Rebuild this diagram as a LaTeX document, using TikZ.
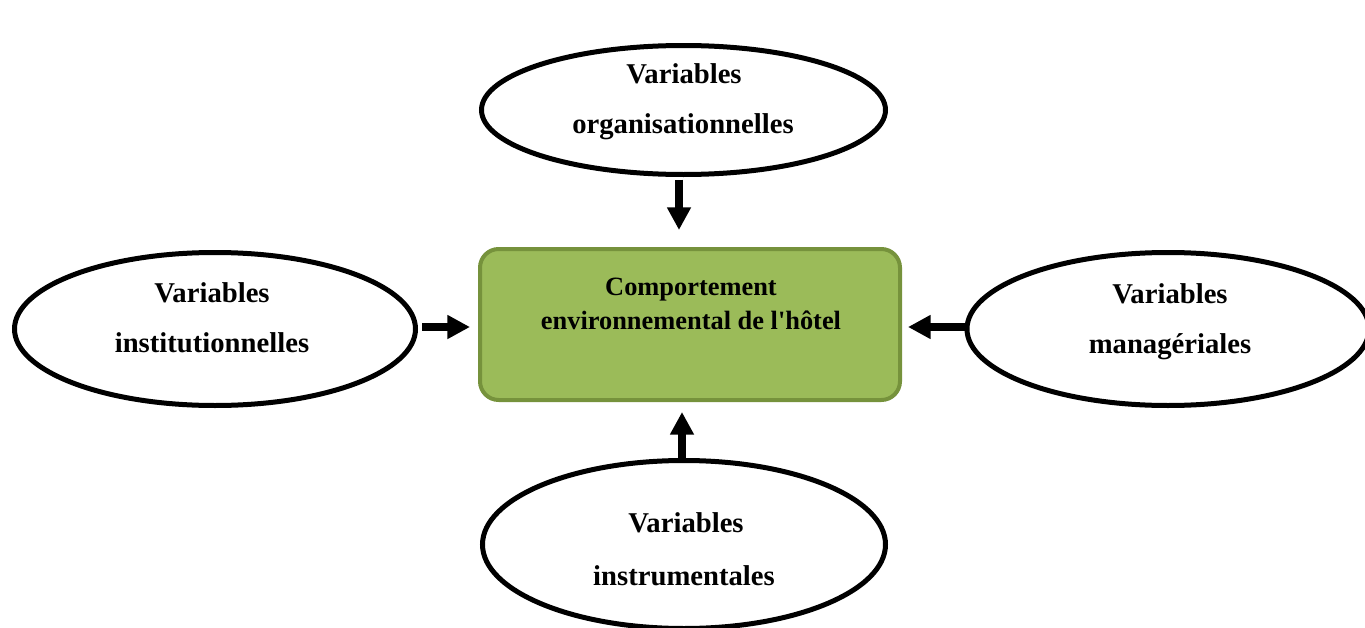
\documentclass[tikz,border=0pt]{standalone}
\usepackage{fontspec}
\setmainfont{Liberation Serif}[Ligatures=TeXOff]
\usetikzlibrary{arrows.meta,shapes.geometric}
\definecolor{boxfill}{HTML}{9BBB59}
\definecolor{boxedge}{HTML}{76923C}
\begin{document}
\begin{tikzpicture}[x=0.75pt,y=-0.75pt,
  varell/.style={ellipse, draw=black, line width=3.75pt, fill=white, inner sep=0pt},
  centrebox/.style={rectangle, rounded corners=14pt, draw=boxedge, fill=boxfill,
    line width=3pt, minimum width=315pt, minimum height=113.25pt, inner sep=0pt},
  vartext/.style={anchor=base, inner sep=0pt, font=\bfseries\fontsize{21.5}{25}\selectfont},
  boxtext/.style={anchor=base, inner sep=0pt, font=\bfseries\fontsize{19.8}{24}\selectfont},
  flow/.style={line width=6pt, -{Triangle[width=17pt,length=17pt]}}
]
\useasboundingbox (0,0) rectangle (1365,628);

% central box
\node[centrebox] (box) at (690,324.5) {};
\node[boxtext] (boxA) at (691,295) {Comportement};
\node[boxtext] (boxB) at (691,329) {environnemental de l'hôtel};

% surrounding ellipses
\node[varell, minimum width=303pt, minimum height=96.75pt] (org) at (683.5,110) {};
\node[varell, minimum width=300.75pt, minimum height=114.75pt] (inst) at (215,329) {};
\node[varell, minimum width=301.5pt, minimum height=114.75pt] (man) at (1168,329) {};
\node[varell, minimum width=302.25pt, minimum height=126pt] (instr) at (684,544.5) {};

\node[vartext] (orgA) at (684,83) {Variables};
\node[vartext] (orgB) at (683,133) {organisationnelles};
\node[vartext] (instA) at (212,302) {Variables};
\node[vartext] (instB) at (212,352) {institutionnelles};
\node[vartext] (manA) at (1170,303) {Variables};
\node[vartext] (manB) at (1170,353) {managériales};
\node[vartext] (instrA) at (686,532) {Variables};
\node[vartext] (instrB) at (684,585) {instrumentales};

% arrows towards the central box
\coordinate (tipT) at (679,230);
\coordinate (tipL) at (470,327);
\coordinate (tipR) at (908,327);
\coordinate (tipB) at (682,412);
\draw[flow, shorten <=2pt] (org.south -| tipT) -- (tipT);
\draw[flow, shorten <=3pt] (inst.east |- tipL) -- (tipL);
\draw[flow] (man.west |- tipR) -- (tipR);
\draw[flow] (instr.north -| tipB) -- (tipB);
\end{tikzpicture}
\end{document}
